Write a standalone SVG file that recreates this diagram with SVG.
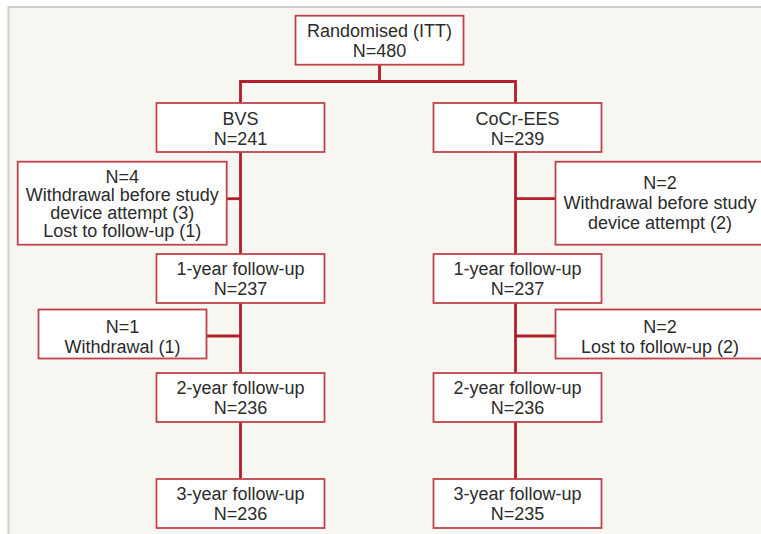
<svg xmlns="http://www.w3.org/2000/svg" width="761" height="534" viewBox="0 0 761 534">
<style>
.bg{fill:#f7f6f0}
.frame{fill:none;stroke:#cfcfcf;stroke-width:2}
.box{fill:#ffffff;stroke:#c0434c;stroke-width:1.8}
.conn{fill:none;stroke:#b01f2b;stroke-width:2.8}
text{font-family:"Liberation Sans",Arial,sans-serif;font-size:18px;fill:#2b2b2b;text-anchor:middle}
</style>
<rect class="bg" x="0" y="0" width="761" height="534"/>
<rect x="0" y="0" width="761" height="6" fill="#ffffff"/>
<rect x="0" y="0" width="8" height="534" fill="#ffffff"/>
<path class="frame" d="M8.5,534 V7 H761"/>
<g id="connectors">
<path class="conn" d="M379.5,64.5 V81.5 H240.5 V103"/>
<path class="conn" d="M379.5,81.5 H515.5 V103"/>
<path class="conn" d="M240.5,152 V254"/>
<path class="conn" d="M226.5,198.7 H240.5"/>
<path class="conn" d="M240.5,302.5 V373"/>
<path class="conn" d="M206.5,336 H240.5"/>
<path class="conn" d="M240.5,421.5 V479"/>
<path class="conn" d="M515.5,152 V254"/>
<path class="conn" d="M515.5,198.7 H555.5"/>
<path class="conn" d="M515.5,302.5 V373"/>
<path class="conn" d="M515.5,336 H555.5"/>
<path class="conn" d="M515.5,421.5 V479"/>
</g>
<g id="randomised">
<rect class="box" x="295.5" y="15.7" width="168" height="49"/>
<text x="379.5" y="36.7">Randomised (ITT)</text>
<text x="379.5" y="56.5">N=480</text>
</g>
<g id="bvs">
<rect class="box" x="156.5" y="103" width="168" height="49"/>
<text x="240.5" y="124.5">BVS</text>
<text x="240.5" y="144.5">N=241</text>
</g>
<g id="cocr">
<rect class="box" x="433.5" y="103" width="168" height="49"/>
<text x="517.5" y="124.5">CoCr-EES</text>
<text x="517.5" y="144.5">N=239</text>
</g>
<g id="bvs-excl1">
<rect class="box" x="17.7" y="161.7" width="209" height="83"/>
<text x="122.2" y="183.4">N=4</text>
<text x="122.2" y="201.2">Withdrawal before study</text>
<text x="122.2" y="219">device attempt (3)</text>
<text x="122.2" y="236.8">Lost to follow-up (1)</text>
</g>
<g id="cocr-excl1">
<rect class="box" x="555.5" y="161.7" width="209" height="83"/>
<text x="660" y="189.4">N=2</text>
<text x="660" y="209">Withdrawal before study</text>
<text x="660" y="228.5">device attempt (2)</text>
</g>
<g id="bvs-1y">
<rect class="box" x="156.5" y="254" width="168" height="49"/>
<text x="240.5" y="275.2">1-year follow-up</text>
<text x="240.5" y="295.2">N=237</text>
</g>
<g id="cocr-1y">
<rect class="box" x="433.5" y="254" width="168" height="49"/>
<text x="517.5" y="275.2">1-year follow-up</text>
<text x="517.5" y="295.2">N=237</text>
</g>
<g id="bvs-excl2">
<rect class="box" x="38.5" y="309.5" width="168" height="49"/>
<text x="122.5" y="332.7">N=1</text>
<text x="122.5" y="352.7">Withdrawal (1)</text>
</g>
<g id="cocr-excl2">
<rect class="box" x="555.5" y="309.5" width="209" height="49"/>
<text x="660" y="332.7">N=2</text>
<text x="660" y="352.7">Lost to follow-up (2)</text>
</g>
<g id="bvs-2y">
<rect class="box" x="156.5" y="373" width="168" height="49"/>
<text x="240.5" y="394.2">2-year follow-up</text>
<text x="240.5" y="414.2">N=236</text>
</g>
<g id="cocr-2y">
<rect class="box" x="433.5" y="373" width="168" height="49"/>
<text x="517.5" y="394.2">2-year follow-up</text>
<text x="517.5" y="414.2">N=236</text>
</g>
<g id="bvs-3y">
<rect class="box" x="156.5" y="479" width="168" height="49"/>
<text x="240.5" y="500.2">3-year follow-up</text>
<text x="240.5" y="520.2">N=236</text>
</g>
<g id="cocr-3y">
<rect class="box" x="433.5" y="479" width="168" height="49"/>
<text x="517.5" y="500.2">3-year follow-up</text>
<text x="517.5" y="520.2">N=235</text>
</g>
</svg>
